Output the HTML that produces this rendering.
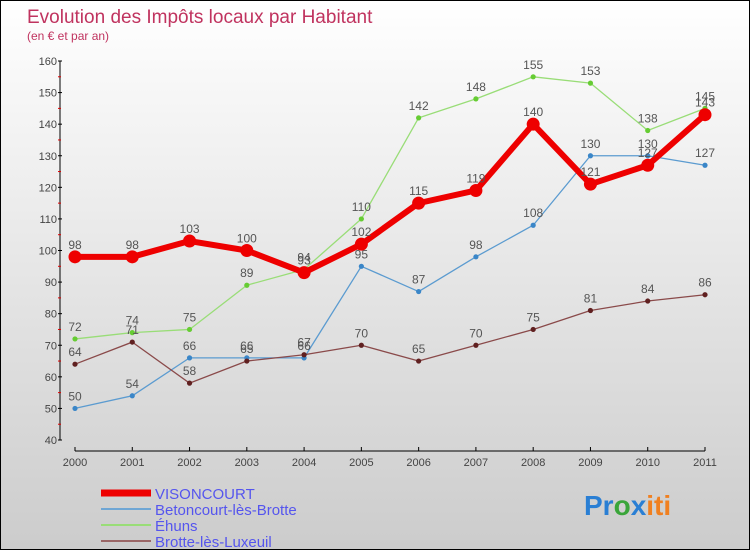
<!DOCTYPE html>
<html><head><meta charset="utf-8"><style>
body{margin:0}
#c{width:748px;height:548px;border:1px solid #000;background:linear-gradient(#fff,#ccc);position:relative;overflow:hidden;font-family:"Liberation Sans",sans-serif}
</style></head><body>
<div id="c">
<svg id="s" width="748" height="548" style="position:absolute;left:0;top:0">
<text x="26" y="22" font-size="19" fill="#c0335f">Evolution des Impôts locaux par Habitant</text>
<text x="26" y="39" font-size="12" fill="#c0335f">(en € et par an)</text>
<g id="axes"></g><g id="series"></g><g id="legend"></g>
<text x="583" y="514" font-size="28" font-weight="bold"><tspan fill="#2a7fd4">Pr</tspan><tspan fill="#3aa53a">o</tspan><tspan fill="#2a7fd4">x</tspan><tspan fill="#f08020">iti</tspan></text>
</svg>
</div>
<script>
const years=[2000,2001,2002,2003,2004,2005,2006,2007,2008,2009,2010,2011];
const yTicks=[40,50,60,70,80,90,100,110,120,130,140,150,160];
const visoncourt=[98,98,103,100,93,102,115,119,140,121,127,143];
const betoncourt=[50,54,66,66,66,95,87,98,108,130,130,127];
const ehuns=[72,74,75,89,94,110,142,148,155,153,138,145];
const brotte=[64,71,58,65,67,70,65,70,75,81,84,86];
const NS="http://www.w3.org/2000/svg";
const X=i=>74+i*(630/11);
const Y=v=>439-(v-40)*(379/120);
function mk(t,a,p){const e=document.createElementNS(NS,t);for(const k in a)e.setAttribute(k,a[k]);p.appendChild(e);return e;}
const ax=document.getElementById('axes');
let e=mk('line',{x1:59,y1:Y(160),x2:59,y2:Y(40),stroke:'#000'},ax);

e=mk('line',{x1:74,y1:450,x2:704,y2:450,stroke:'#000'},ax);

yTicks.forEach(v=>{mk('line',{x1:57,y1:Y(v),x2:61,y2:Y(v),stroke:'#000'},ax);
 if(v<160)mk('line',{x1:57,y1:Y(v+5),x2:60,y2:Y(v+5),stroke:'#d00'},ax);
 const t=mk('text',{x:56,y:Y(v)+4,'font-size':11,fill:'#444','text-anchor':'end'},ax);t.textContent=v;
 });
years.forEach((y,i)=>{mk('line',{x1:X(i),y1:446,x2:X(i),y2:450,stroke:'#000'},ax);
 const t=mk('text',{x:X(i),y:465,'font-size':11,fill:'#444','text-anchor':'middle'},ax);t.textContent=y;
 });
const sg=document.getElementById('series');
const defs=[[betoncourt,'#5b9bd0','#3a86c8',1.3,2.6,'betoncourt'],[ehuns,'#99dd77','#66cc33',1.3,2.6,'ehuns'],[brotte,'#8a4a4a','#602020',1.3,2.6,'brotte'],[visoncourt,'#ee0000','#ee0000',6,6.5,'visoncourt']];
defs.forEach(([d,c,dc,w,r,n])=>{
 const g=mk('g',{},sg);
 const p=mk('polyline',{points:d.map((v,i)=>X(i)+','+Y(v)).join(' '),fill:'none',stroke:c,'stroke-width':w,'stroke-linejoin':'round'},g);
 
 d.forEach((v,i)=>{const ci=mk('circle',{cx:X(i),cy:Y(v),r:r,fill:dc},g);
  
  const t=mk('text',{x:X(i),y:Y(v)-8,'font-size':12,fill:'#555','text-anchor':'middle'},g);t.textContent=v;
  });
});
const lg=document.getElementById('legend');
[['VISONCOURT','#ee0000',7],['Betoncourt-lès-Brotte','#6fa6d4',2],['Éhuns','#99dd77',2],['Brotte-lès-Luxeuil','#9a6666',2]].forEach(([n,c,w],i)=>{
 const y=492+i*16;
 const g=mk('g',{},lg);
 mk('line',{x1:100,y1:y,x2:150,y2:y,stroke:c,'stroke-width':w},g);
 const t=mk('text',{x:154,y:y+6,'font-size':15,fill:'#5555ee'},g);t.textContent=n;
});
</script>
</body></html>
